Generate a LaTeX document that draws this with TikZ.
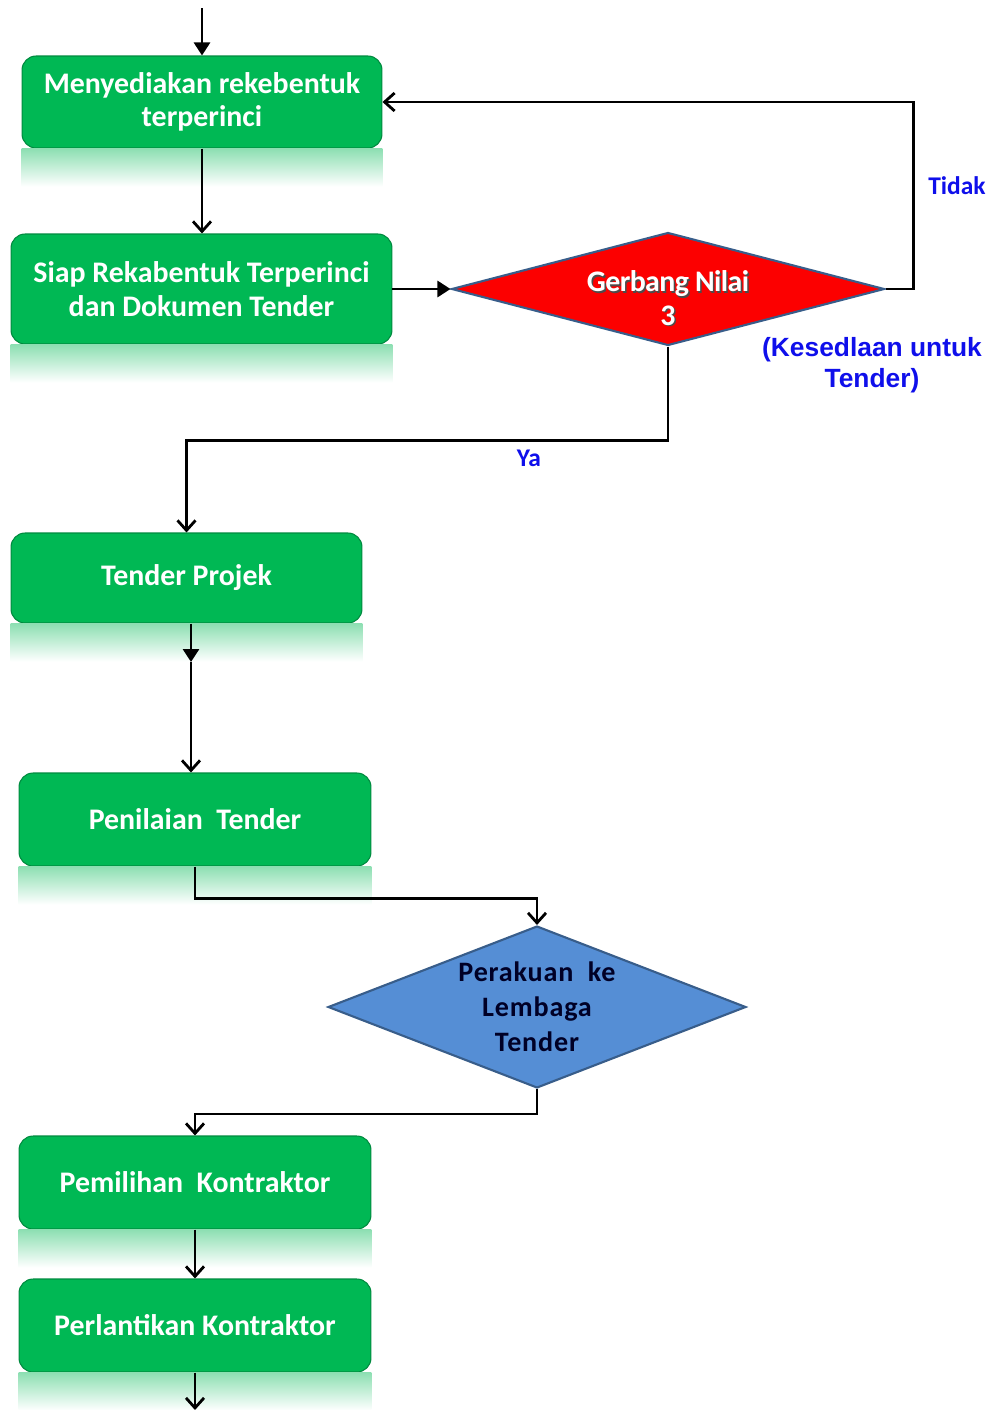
\documentclass[tikz,border=0pt]{standalone}
\usepackage{fontspec}
\setmainfont{Carlito}
\newfontfamily\notefont{Liberation Sans}
\newfontfamily\widefont[LetterSpace=3]{Carlito}
\newfontfamily\tightfont[LetterSpace=-2]{Carlito}
\usetikzlibrary{shapes.geometric,arrows.meta}

\definecolor{boxgreen}{RGB}{0,184,84}
\definecolor{gatered}{RGB}{252,0,0}
\definecolor{gateblue}{RGB}{85,142,213}
\definecolor{gateedge}{RGB}{56,93,138}
\definecolor{noteblue}{RGB}{15,15,235}

\tikzset{
  stepbox/.style={draw=boxgreen!75!black, line width=0.6pt, fill=boxgreen,
    rounded corners=8pt, text=white, align=center, inner sep=2pt,
    font=\bfseries\fontsize{17}{19}\selectfont},
  gate/.style={diamond, draw=gateedge, line width=1.2pt, inner sep=0pt, align=center},
  gatetext/.style={align=center, font=\tightfont\bfseries\fontsize{17}{19}\selectfont},
  reflect/.style={top color=boxgreen!45, bottom color=white},
  flow/.style={line width=1.6pt, -{Straight Barb[length=2mm,width=3.6mm]}},
  flowfill/.style={line width=1.6pt, -{Triangle[length=2.6mm,width=3.2mm]}},
  note/.style={text=noteblue, font=\bfseries\fontsize{14.5}{17}\selectfont}
}

\begin{document}
\begin{tikzpicture}[x=0.02cm, y=-0.02cm]
  \fill[white] (0,0) rectangle (1000,1410);
  \useasboundingbox (0,0) rectangle (1000,1410);

  % process boxes
  \node[stepbox, minimum width=7.2cm, minimum height=1.84cm] (design) at (202,102)
    {Menyediakan rekebentuk\\terperinci};
  \node[stepbox, minimum width=7.62cm, minimum height=2.2cm] (ready) at (201.5,289)
    {Siap Rekabentuk Terperinci\\dan Dokumen Tender};
  \node[stepbox, minimum width=7.02cm, minimum height=1.8cm] (tender) at (186.5,578)
    {Tender Projek};
  \node[stepbox, minimum width=7.04cm, minimum height=1.86cm] (assess) at (195,819.5)
    {Penilaian~ Tender};
  \node[stepbox, minimum width=7.04cm, minimum height=1.86cm] (choose) at (195,1182.5)
    {Pemilihan~ Kontraktor};
  \node[stepbox, minimum width=7.04cm, minimum height=1.86cm] (appoint) at (195,1325.5)
    {Perlantikan Kontraktor};

  % decision diamonds
  \node[gate, fill=gatered, shape aspect=3.83,
    minimum width=8.66cm, minimum height=2.26cm,
    label={[gatetext, text=black!70, xshift=0.03cm, yshift=-0.21cm]center:Gerbang Nilai\\3},
    label={[gatetext, text=white, yshift=-0.18cm]center:Gerbang Nilai\\3}] (gate3) at (668,289) {};
  \node[gate, fill=gateblue, text=black!85!blue, shape aspect=2.58,
    minimum width=8.36cm, minimum height=3.24cm,
    font=\widefont\bfseries\fontsize{16}{20}\selectfont] (board) at (537,1007)
    {Perakuan~ ke\\Lembaga\\Tender};

  % reflections under the boxes
  \foreach \b in {design,ready,tender,assess,choose,appoint}
    \shade[reflect] (\b.south west) rectangle ([yshift=-0.76cm]\b.south east);

  % connectors
  \coordinate (start) at (202,8);
  \coordinate (midtip) at (191,662);
  \coordinate (finish) at (195,1410);

  \draw[flowfill] (start) -- (design.north);
  \draw[flow] (design.south) -- (design.south |- ready.north);
  \draw[flowfill] (ready.east) -- (gate3.west);
  \draw[flow] (gate3.east) -- ++(28,0) |- (design.east);
  \draw[flow] (gate3.south) -- ++(0,94) -| (tender.north);
  \draw[flowfill] (tender.south -| midtip) -- (midtip);
  \draw[flow] (midtip) -- (assess.north -| midtip);
  \draw[flow] (assess.south) -- ++(0,32) -| (board.north);
  \draw[flow] (board.south) -- ++(0,25) -| (choose.north);
  \draw[flow] (choose.south) -- (appoint.north);
  \draw[flow] (appoint.south) -- (finish);

  % labels
  \node[note] (tidak) at (957,186) {Tidak};
  \node[note] (ya) at (529,458) {Ya};
  \node[text=noteblue, align=center, font=\notefont\bfseries\fontsize{15}{18}\selectfont]
    (readiness) at (872,365) {(Kesedlaan untuk\\Tender)};
\end{tikzpicture}
\end{document}
